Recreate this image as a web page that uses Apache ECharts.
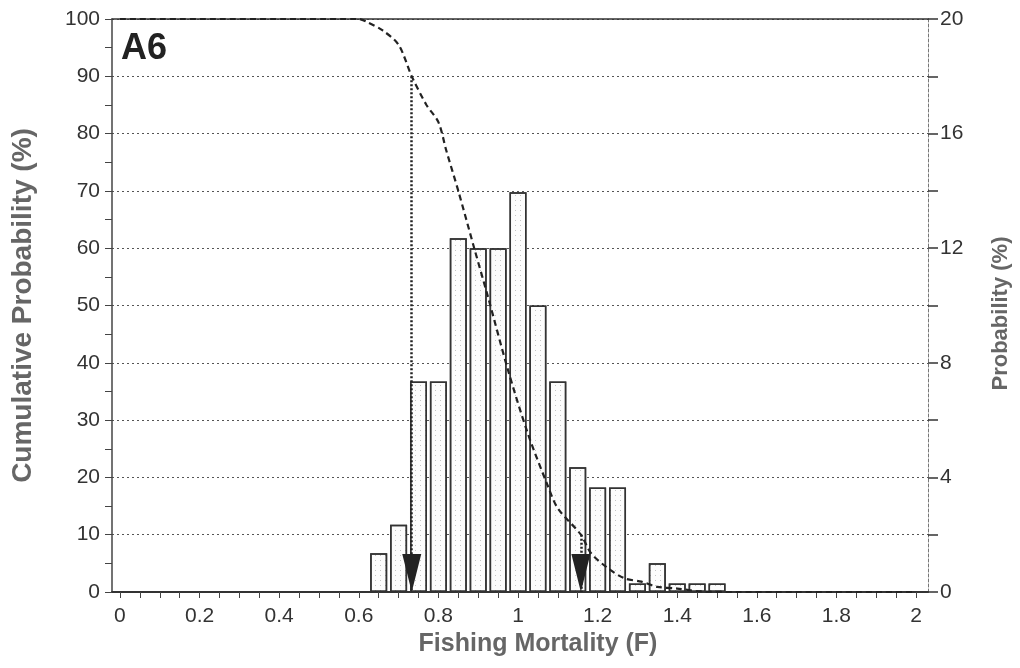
<!DOCTYPE html>
<html>
<head>
<meta charset="utf-8">
<script src="https://cdn.jsdelivr.net/npm/echarts@6/dist/echarts.min.js"></script>
<style>
html, body { margin: 0; padding: 0; background: #fff; }
#main { width: 1020px; height: 668px; }
</style>
</head>
<body>
<div id="main"></div>
<script>
// histogram bins (F) and probability (%) - right axis
var binF = [0.65, 0.7, 0.75, 0.8, 0.85, 0.9, 0.95, 1.0, 1.05, 1.1, 1.15, 1.2, 1.25, 1.3, 1.35, 1.4, 1.45, 1.5];
var binProb = [1.35, 2.35, 7.35, 7.35, 12.35, 12.0, 12.0, 13.95, 10.0, 7.35, 4.35, 3.65, 3.65, 0.3, 1.0, 0.3, 0.3, 0.3];
// cumulative probability curve (%) - left axis
var cumF = [0, 0.6, 0.62, 0.66, 0.7, 0.733, 0.77, 0.8, 0.82, 0.85, 0.89, 0.925, 0.975, 1.025, 1.075, 1.1, 1.158, 1.183, 1.225, 1.267, 1.31, 1.35, 1.4, 1.46, 1.55, 2];
var cumProb = [100, 100, 99.5, 98, 95.5, 90, 85, 82, 77, 70, 60, 51.4, 38.7, 27.6, 18.5, 14.6, 10, 6.8, 4.2, 2.4, 1.8, 0.9, 0.6, 0.1, 0, 0];
// 90% and 10% points marked with arrows
var quantF = [0.733, 1.158];
var quantCum = [90, 10];
// tick labels
var xLabels = [0, 0.2, 0.4, 0.6, 0.8, 1, 1.2, 1.4, 1.6, 1.8, 2];
var xTicks = [0, 0.05, 0.1, 0.15, 0.2, 0.25, 0.3, 0.35, 0.4, 0.45, 0.5, 0.55, 0.6, 0.65, 0.7, 0.75, 0.8, 0.85, 0.9, 0.95,
    1, 1.05, 1.1, 1.15, 1.2, 1.25, 1.3, 1.35, 1.4, 1.45, 1.5, 1.55, 1.6, 1.65, 1.7, 1.75, 1.8, 1.85, 1.9, 1.95, 2];

var font = 'Liberation Sans, Arial, Helvetica, sans-serif';

var barData = [];
for (var i = 0; i < binF.length; i++) {
    barData.push([binF[i], binProb[i]]);
}
var cumData = [];
for (var i = 0; i < cumF.length; i++) {
    cumData.push([cumF[i], cumProb[i]]);
}
var arrowData = [];
var dropLines = [];
for (var i = 0; i < quantF.length; i++) {
    arrowData.push([quantF[i], 0]);
    dropLines.push([{ coord: [quantF[i], quantCum[i]] }, { coord: [quantF[i], 0] }]);
}

var myChart = echarts.init(document.getElementById('main'), null, { renderer: 'canvas' });
var option = {
    backgroundColor: '#fff',
    animation: false,
    title: {
        text: 'A6',
        left: 121, top: 31, padding: 0,
        textStyle: { fontFamily: font, fontSize: 36, fontWeight: 'bold', color: '#222' }
    },
    grid: { left: 112, right: 89, top: 19, bottom: 76 },
    xAxis: [{
        type: 'value',
        min: -0.02, max: 2.03,
        name: 'Fishing Mortality (F)',
        nameLocation: 'middle',
        nameGap: 40,
        nameTextStyle: { fontFamily: font, fontSize: 25, fontWeight: 'bold', color: '#666', padding: [0, 0, 0, 36] },
        axisLine: { show: true, onZero: false, lineStyle: { color: '#333', width: 2 } },
        axisTick: { show: true, length: 6, customValues: xTicks, lineStyle: { color: '#444' } },
        axisLabel: { customValues: xLabels, fontFamily: font, fontSize: 21, color: '#333', margin: 14 },
        splitLine: { show: false }
    }, {
        type: 'value',
        position: 'top',
        min: -0.02, max: 2.03,
        axisLine: { show: true, onZero: false, lineStyle: { color: '#333', width: 1.5 } },
        axisTick: { show: false },
        axisLabel: { show: false },
        splitLine: { show: false }
    }],
    yAxis: [{
        type: 'value',
        min: 0, max: 100, interval: 10,
        name: 'Cumulative Probability (%)',
        nameLocation: 'middle',
        nameRotate: 90,
        nameGap: 75,
        nameTextStyle: { fontFamily: font, fontSize: 28, fontWeight: 'bold', color: '#666' },
        axisLine: { show: true, onZero: false, lineStyle: { color: '#444', width: 1.5 } },
        axisTick: { show: true, length: 7, lineStyle: { color: '#444' } },
        minorTick: { show: true, splitNumber: 2, length: 7, lineStyle: { color: '#444' } },
        axisLabel: { fontFamily: font, fontSize: 21, color: '#333', margin: 12 },
        splitLine: { show: true, lineStyle: { color: '#555', type: [2, 3], width: 1 } }
    }, {
        type: 'value',
        position: 'right',
        min: 0, max: 20, interval: 2,
        name: 'Probability (%)',
        nameLocation: 'middle',
        nameRotate: 90,
        nameGap: 62,
        nameTextStyle: { fontFamily: font, fontSize: 22, fontWeight: 'bold', color: '#666', padding: [0, 16, 0, 0] },
        axisLine: { show: true, onZero: false, lineStyle: { color: '#777', width: 1, type: [3, 2] } },
        axisTick: { show: true, inside: false, length: 10, lineStyle: { color: '#333', width: 1.5 } },
        axisLabel: {
            fontFamily: font, fontSize: 21, color: '#333', margin: 12,
            formatter: function (v) { return v % 4 === 0 ? String(v) : ''; }
        },
        splitLine: { show: false }
    }],
    series: [{
        name: 'Probability',
        type: 'bar',
        xAxisIndex: 0,
        yAxisIndex: 1,
        barWidth: 17,
        data: barData,
        itemStyle: {
            color: '#fcfcfc',
            borderColor: '#333',
            borderWidth: 1.5,
            decal: {
                symbol: 'rect',
                symbolSize: 1,
                color: 'rgba(0,0,0,0.22)',
                dashArrayX: [1, 4],
                dashArrayY: [1, 4],
                rotation: 0
            }
        },
        z: 2
    }, {
        name: 'Cumulative',
        type: 'line',
        xAxisIndex: 0,
        yAxisIndex: 0,
        data: cumData,
        smooth: 0.3,
        showSymbol: false,
        symbol: 'none',
        lineStyle: { color: '#222', width: 2.2, type: [6, 4] },
        z: 4
    }, {
        name: 'Quantiles',
        type: 'scatter',
        xAxisIndex: 0,
        yAxisIndex: 0,
        data: arrowData,
        symbol: 'triangle',
        symbolRotate: 180,
        symbolSize: [19, 38],
        symbolOffset: [0, '-50%'],
        itemStyle: { color: '#222', opacity: 1 },
        markLine: {
            silent: true,
            symbol: ['none', 'none'],
            label: { show: false },
            lineStyle: { color: '#222', type: [2, 2], width: 2.5 },
            data: dropLines
        },
        z: 5
    }]
};
myChart.setOption(option);
</script>
</body>
</html>
